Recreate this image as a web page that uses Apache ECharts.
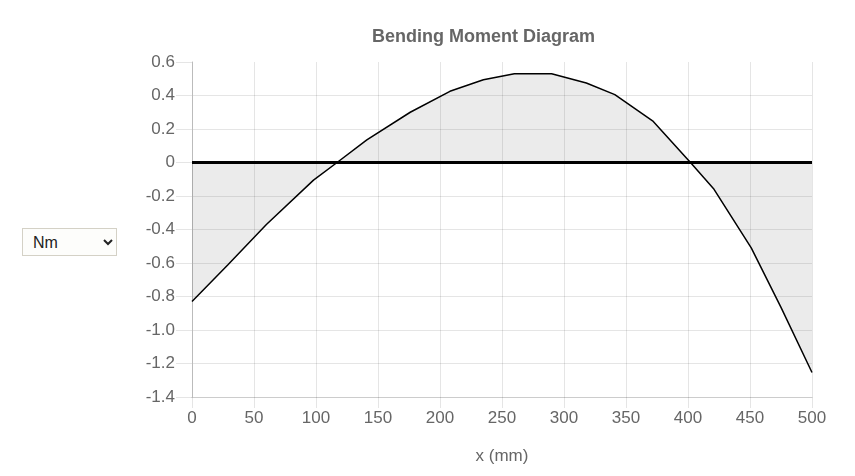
<!DOCTYPE html>
<html lang="en">
<head>
    <meta charset="UTF-8">
    <title>Bending Moment Diagram</title>
    <script src="https://cdn.jsdelivr.net/npm/echarts@6/dist/echarts.min.js"></script>
    <style>
        html, body { margin: 0; padding: 0; background: #fff; }
        #chart { width: 855px; height: 476px; }
        #unit {
            position: absolute; left: 22px; top: 228px; width: 95px; height: 28px;
            font: 16px "Liberation Sans", Arial, sans-serif; color: #222;
            border: 1px solid #d4d1c6; background: #fdfdfb; padding-left: 6px;
        }
    </style>
</head>
<body>
    <div id="chart"></div>
    <select id="unit"><option>Nm</option><option>kNm</option></select>

    <script>
        // positions along the beam (mm) and bending moment (Nm)
        var xPos = [0, 29, 60, 98, 117, 141, 176, 208, 235, 260, 290, 318, 341, 372, 402, 421, 451, 475, 500];
        var moment = [-0.83, -0.61, -0.37, -0.105, 0, 0.135, 0.30, 0.425, 0.494, 0.53, 0.53, 0.475, 0.405, 0.245, 0, -0.16, -0.51, -0.865, -1.254];

        var data = xPos.map(function (x, i) { return [x, moment[i]]; });

        var chart = echarts.init(document.getElementById('chart'));
        var font = '"Liberation Sans", Arial, sans-serif';
        var gridColor = 'rgba(0,0,0,0.1)';

        var option = {
            animation: false,
            title: {
                text: 'Bending Moment Diagram',
                left: 367, top: 23,
                textStyle: { fontFamily: font, fontSize: 18, fontWeight: 'bold', color: '#666' }
            },
            grid: { left: 192, right: 43, top: 62, bottom: 79 },
            xAxis: {
                type: 'value', min: 0, max: 500, interval: 50,
                name: 'x (mm)', nameLocation: 'middle', nameGap: 51,
                nameTextStyle: { fontFamily: font, fontSize: 17, color: '#666' },
                axisLine: { show: true, onZero: false, lineStyle: { color: '#ccc' } },
                axisTick: { show: true, length: 11, lineStyle: { color: gridColor } },
                axisLabel: { fontFamily: font, fontSize: 17, color: '#666', margin: 13 },
                splitLine: { show: true, lineStyle: { color: gridColor } }
            },
            yAxis: {
                type: 'value', min: -1.4, max: 0.6, interval: 0.2,
                axisLine: { show: true, lineStyle: { color: '#bbb' } },
                axisTick: { show: true, length: 16, lineStyle: { color: gridColor } },
                axisLabel: {
                    fontFamily: font, fontSize: 17, color: '#666', margin: 17,
                    formatter: function (v) { return Math.abs(v) < 1e-9 ? '0' : v.toFixed(1); }
                },
                splitLine: { show: true, showMaxLine: false, lineStyle: { color: gridColor } }
            },
            series: [{
                type: 'line',
                data: data,
                showSymbol: false,
                lineStyle: { color: '#000', width: 1.5 },
                areaStyle: { color: 'rgba(0,0,0,0.11)' },
                markLine: {
                    silent: true, symbol: 'none', label: { show: false },
                    lineStyle: { color: '#000', width: 3, type: 'solid' },
                    data: [{ yAxis: 0 }]
                }
            }]
        };

        chart.setOption(option);
    </script>
</body>
</html>
